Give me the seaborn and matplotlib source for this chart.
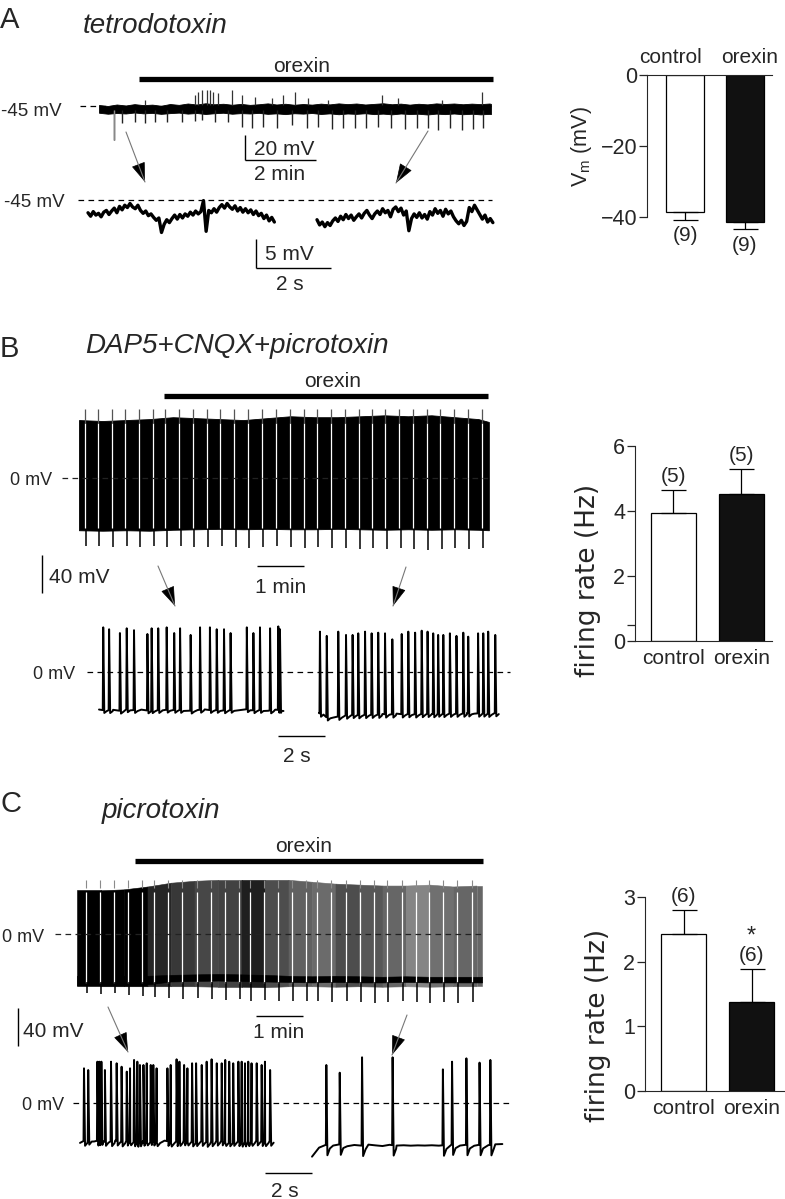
import numpy as np
import matplotlib
matplotlib.use("Agg")
import matplotlib.pyplot as plt
import seaborn as sns
from matplotlib.lines import Line2D
from matplotlib.patches import FancyArrowPatch, ArrowStyle

# ============================ DATA ============================
bar_cats = ["control", "orexin"]
a_vm = [-38.6, -41.4]          # membrane potential (mV)
a_vm_sem = [2.2, 2.0]
a_n = ["(9)", "(9)"]
b_rate = [3.94, 4.52]          # firing rate (Hz)
b_rate_sem = [0.71, 0.77]
b_n = ["(5)", "(5)"]
c_rate = [2.43, 1.38]
c_rate_sem = [0.37, 0.50]
c_n = ["(6)", "(6)"]

# ---- A: long recording in TTX (time in min, V in mV)
a_trace_end = 11.04
a_orexin = [1.13, 11.10]
a_env_t = [0.0, 0.25, 0.5, 0.75, 1.0, 1.25, 1.5, 1.75, 2.0, 2.25, 2.5, 2.75, 3.0, 3.25, 3.5,
           3.75, 4.0, 4.25, 4.5, 4.75, 5.0, 5.25, 5.5, 5.75, 6.0, 6.25, 6.5, 6.75, 7.0, 7.25,
           7.5, 7.75, 8.0, 8.25, 8.5, 8.75, 9.0, 9.25, 9.5, 9.75, 10.0, 10.25, 10.5, 10.75,
           11.0, 11.04]
a_top = [-44.2, -45.0, -43.8, -44.6, -43.5, -44.3, -43.9, -44.8, -43.4, -44.1,
         -43.0, -43.8, -42.8, -43.6, -43.2, -44.0, -43.3, -44.1, -43.6, -42.9,
         -43.8, -43.2, -44.0, -43.4, -43.9, -43.1, -43.7, -42.9, -43.5, -43.0,
         -43.8, -43.3, -42.8, -43.6, -43.1, -43.9, -43.2, -43.7, -42.9, -43.4,
         -43.0, -43.6, -43.1, -43.5, -43.0, -43.3]
a_bot = [-50.4, -51.2, -50.6, -51.0, -50.2, -50.9, -50.5, -51.3, -50.7, -50.3,
         -51.1, -50.6, -51.4, -50.8, -50.4, -51.2, -50.7, -51.0, -50.5, -51.3,
         -50.9, -51.5, -50.8, -51.1, -50.6, -51.4, -50.9, -51.6, -51.0, -51.3,
         -50.8, -51.5, -51.1, -51.7, -51.0, -51.4, -51.2, -51.8, -51.1, -51.5,
         -51.0, -51.6, -51.2, -51.7, -51.3, -51.5]
a_pulse_t = [0.43, 0.64, 1.01, 1.30, 1.58, 1.91, 2.33, 2.70, 2.89, 3.27, 3.64, 4.02, 4.30, 4.63,
             5.01, 5.43, 5.85, 6.18, 6.55, 6.88, 7.21, 7.51, 7.87, 8.23, 8.62, 8.95, 9.28, 9.56,
             9.89, 10.22, 10.54, 10.83]
a_pulse_v = [-72, -58.9, -58.1, -58.9, -57.5, -57.5, -58.1, -57.0, -56.2, -57.5, -58.1, -61.5,
             -62.9, -61.5, -62.9, -60.2, -62.9, -61.5, -63.4, -62.3, -62.9, -62.9, -61.5, -62.9,
             -63.4, -62.3, -62.9, -64.2, -62.3, -64.2, -63.4, -62.9]
a_evt_t = [1.30, 2.70, 2.80, 2.89, 3.03, 3.13, 3.22, 3.36, 3.74, 4.02, 4.39, 4.86, 5.19, 5.52,
           5.90, 6.46, 7.96, 8.43, 9.65, 10.78]
a_evt_v = [-40.5, -36.2, -33.5, -32.2, -32.2, -32.2, -33.5, -34.9, -32.2, -36.2, -37.5, -38.9,
           -36.2, -33.5, -38.9, -40.2, -36.2, -38.9, -40.2, -34.1]

# ---- A: expanded segments (sample interval s, V in mV)
a_dt = 0.07
a_exp_left = [-47.2, -47.8, -47.0, -47.6, -47.3, -47.9, -47.1, -46.8, -47.5, -46.9, -46.4, -47.2,
              -46.1, -46.7, -45.9, -46.3, -45.6, -46.2, -46.5, -45.9, -46.8, -47.3, -46.9, -47.7,
              -47.4, -48.0, -48.5, -48.1, -50.6, -49.2, -48.4, -48.9, -48.2, -47.6, -48.3, -47.5,
              -48.1, -47.4, -47.8, -47.1, -47.6, -46.9, -47.4, -47.0, -45.1, -50.4, -46.8, -47.2,
              -46.5, -47.1, -46.3, -45.8, -46.4, -45.6, -46.2, -46.6, -46.0, -46.9, -46.3, -47.1,
              -46.5, -47.2, -46.7, -47.5, -46.9, -47.7, -47.3, -48.2, -47.6, -48.6, -48.0, -48.8]
a_exp_right = [-48.4, -49.3, -48.8, -49.6, -48.9, -49.4, -48.6, -48.1, -48.7, -47.8, -48.4, -47.5,
               -48.2, -47.6, -48.5, -47.9, -47.4, -48.1, -47.3, -46.8, -47.6, -48.2, -47.4, -46.9,
               -47.5, -46.5, -47.2, -46.8, -47.9, -46.6, -46.2, -47.0, -46.4, -47.6, -46.9, -50.3,
               -48.2, -47.4, -48.0, -47.2, -48.1, -47.5, -48.3, -47.0, -47.6, -46.5, -47.3, -46.8,
               -47.8, -46.6, -47.4, -46.9, -47.9, -48.6, -49.1, -48.5, -49.4, -48.7, -46.3, -47.0,
               -45.9, -46.7, -47.5, -48.3, -47.6, -48.8, -48.2, -48.9]

# ---- B: long recording in DAP5+CNQX+picrotoxin (min, mV)
b_orexin = [1.81, 8.70]
b_env_t = [0.0, 0.5, 1.0, 1.5, 2.0, 2.5, 3.0, 3.5, 4.0, 4.5, 5.0, 5.5, 6.0, 6.5, 7.0, 7.5,
           8.0, 8.5, 8.72]
b_top = [61, 60, 61, 62, 64, 63, 62, 61, 63, 65, 64, 64, 65, 66, 65, 66, 64, 62, 59]
b_bot = [-55, -55.5, -55, -55.5, -54.5, -54, -53.5, -54, -53.5, -54, -54, -53.5, -54, -54.5,
         -54, -54.5, -54, -54.5, -55]
b_pulse_t = [0.149, 0.433, 0.730, 1.014, 1.298, 1.596, 1.865, 2.163, 2.447, 2.752, 3.035, 3.333,
             3.624, 3.922, 4.220, 4.511, 4.809, 5.092, 5.390, 5.681, 5.979, 6.262, 6.546, 6.844,
             7.135, 7.433, 7.716, 8.000, 8.298, 8.603]
b_pulse_v = [-72, -72, -73, -72, -73, -72, -73, -72, -73, -73, -72, -73, -74, -73, -72, -73, -74,
             -73, -74, -74, -75, -74, -75, -74, -75, -76, -75, -74, -75, -74]
b_rebound_v = 73

# ---- B: expanded segments (s, mV)
b_dt = 0.3
b_left_base = [-39.5, -40.5, -39.8, -40.8, -39.2, -40.1, -39.6, -40.6, -39.9, -40.4, -39.3, -40.2,
               -39.7, -40.7, -40.0, -39.4, -40.3, -39.8, -40.6, -39.5, -40.1, -39.2, -40.4, -39.9,
               -40.8, -39.6, -40.2]
b_left_spk_t = [0.18, 0.43, 0.89, 1.18, 1.49, 2.06, 2.24, 2.52, 2.88, 3.20, 3.45, 3.90, 4.30, 4.72,
                5.01, 5.32, 5.60, 6.29, 6.57, 6.85, 7.28, 7.63, 7.70]
b_left_spk_v = [47, 45, 41, 46, 44, 40, 46, 46, 47, 41, 46, 39, 47, 47, 45, 45, 41, 47, 41, 47,
                46, 48, 45]
b_right_base = [-43.0, -47.5, -48.0, -46.5, -45.5, -44.8, -45.6, -44.5, -45.2, -44.2, -44.9, -43.8,
                -44.6, -43.9, -44.7, -43.6, -44.3, -43.5, -44.2, -43.4, -44.0, -43.2, -43.9, -43.3,
                -43.8, -43.1]
b_right_spk_t = [0.04, 0.33, 0.82, 1.15, 1.43, 1.67, 1.96, 2.24, 2.52, 2.81, 3.12, 3.52, 3.80,
                 4.09, 4.37, 4.62, 4.86, 5.07, 5.29, 5.57, 5.85, 6.14, 6.35, 6.77, 6.99, 7.20, 7.50]
b_right_spk_v = [42.5, 38, 42.5, 39, 39, 40.7, 42.5, 40.7, 41.4, 40.7, 34.4, 40, 42.5, 41.4, 43.5,
                 42.5, 40.7, 39, 39, 40.7, 38, 41.4, 37.2, 40.7, 40.7, 42.5, 39]

# ---- C: long recording in picrotoxin (min, mV)
c_orexin = [1.23, 8.64]
c_env_t = [0.0, 0.5, 1.0, 1.5, 2.0, 2.5, 3.0, 3.5, 4.0, 4.5, 5.0, 5.5, 6.0, 6.5, 7.0, 7.5,
           8.0, 8.5, 8.62]
c_top = [46, 46, 47, 50, 54, 56, 57, 57, 57, 57, 55, 53, 52, 51, 51, 52, 50, 51, 51]
c_bot = [-55, -55, -55, -55, -55, -55, -55.5, -55.5, -56, -55, -55, -55.5, -55, -55.5, -55,
         -55.5, -55, -55, -55]
c_band_hi = [-44, -44, -44, -44, -43, -42.5, -42, -42.5, -43, -44, -44.5, -44, -44.5, -45,
             -44.5, -45, -45, -45, -45]
c_band_lo = [-54, -54, -54, -53, -50, -49.5, -49, -49.5, -50, -50.5, -51, -50.5, -51, -51,
             -50.5, -51, -51, -51, -51]
# darkness of the compressed spike trace per interval (1 = solid black)
c_dark = [1.0, 1.0, 1.0, 0.85, 0.78, 0.72, 0.74, 0.88, 0.70, 0.62, 0.58, 0.70, 0.66, 0.60,
          0.48, 0.56, 0.60, 0.60]
c_pulse_t = [0.206, 0.511, 0.809, 1.113, 1.411, 1.660, 1.964, 2.262, 2.568, 2.866, 3.170, 3.468,
             3.696, 4.000, 4.304, 4.602, 4.887, 5.134, 5.432, 5.738, 6.036, 6.340, 6.623, 6.930,
             7.228, 7.511, 7.815, 8.113, 8.419]
c_pulse_v = [-62, -63, -62, -64, -65, -66, -67, -68, -67, -68, -69, -68, -70, -69, -70, -71, -70,
             -71, -72, -71, -72, -73, -72, -71, -72, -73, -72, -73, -72]
c_rebound_v = 57

# ---- C: expanded segments (s, mV)
c_dt = 0.3
c_left_base = [-42.0, -38.5, -40.5, -39.0, -41.0, -39.5, -40.8, -39.3, -41.2, -40.0, -39.2, -40.6,
               -39.6, -41.0, -40.2, -39.4, -40.8, -39.8, -41.2, -40.1, -39.5, -40.7, -39.9, -41.0,
               -40.3, -39.6, -40.5, -40.0]
c_left_spk_t = [0.17, 0.35, 0.74, 0.82, 0.91, 1.06, 1.32, 1.56, 1.77, 1.99, 2.13, 2.30, 2.44, 2.55,
                2.70, 2.84, 3.01, 3.12, 3.26, 3.72, 3.86, 4.11, 4.23, 4.43, 4.57, 4.77, 4.94, 5.18,
                5.39, 5.60, 5.82, 6.03, 6.18, 6.35, 6.52, 6.74, 6.88, 7.02, 7.16, 7.30, 7.52, 7.73,
                7.87, 8.09]
c_left_spk_v = [36.5, 34.7, 43.5, 43.5, 43.5, 34.7, 43.5, 41.8, 38.2, 33.0, 36.5, 45.3, 43.5, 40,
                40, 41.8, 40, 40, 36.5, 36.5, 40, 46, 43.5, 40, 36.5, 41.8, 41.8, 40, 43.5, 46,
                41.8, 41.8, 45.3, 43.5, 41.8, 43.5, 43.5, 41.8, 43.5, 41.8, 41.8, 40, 43.5, 34.7]
c_right_base = [-56.5, -47.0, -44.0, -44.8, -43.5, -45.5, -44.2, -45.0, -43.8, -44.6, -45.3, -44.0,
                -44.8, -44.5, -44.9, -44.6, -44.8, -44.5, -44.9, -44.3, -43.6, -44.8, -43.9, -45.0,
                -43.7, -44.4, -43.5, -43.2]
c_right_spk_t = [0.61, 1.18, 2.13, 3.43, 5.57, 5.96, 6.57, 7.13, 7.59]
c_right_spk_v = [40.0, 31.9, 48.1, 48.1, 35.4, 43.5, 47.0, 42.5, 45.3]

# ============================ STYLE / LAYOUT ============================
sns.set_style("ticks")
plt.rcParams["font.family"] = ["Liberation Sans", "DejaVu Sans"]
plt.rcParams["mathtext.fontset"] = "custom"
plt.rcParams["mathtext.rm"] = "Liberation Sans"
plt.rcParams["mathtext.it"] = "Liberation Sans:italic"

W, H = 785, 1199
fig = plt.figure(figsize=(W / 100, H / 100), dpi=100)
fig.patch.set_facecolor("white")
DASH = (0, (4.5, 3.5))
TXT = 15


def ftext(x, y, s, **kw):
    kw.setdefault("va", "baseline")
    kw.setdefault("fontsize", TXT)
    fig.text(x / W, 1 - y / H, s, **kw)


def trace_ax(box, x0, sx, y0, sy):
    l, t, r, b = box
    ax = fig.add_axes([l / W, 1 - b / H, (r - l) / W, (b - t) / H])
    ax.set_xlim((l - x0) / sx, (r - x0) / sx)
    ax.set_ylim((y0 - b) / sy, (y0 - t) / sy)
    ax.set_axis_off()
    cx = lambda px: (px - x0) / sx
    cy = lambda py: (y0 - py) / sy
    return ax, cx, cy


def scale_v(ax, cx, cy, px, py_bottom, dy):
    x, y = cx(px), cy(py_bottom)
    ax.plot([x, x], [y, y + dy], color="k", lw=1.0, clip_on=False, solid_capstyle="butt")


def scale_h(ax, cx, cy, px_left, py, dx):
    x, y = cx(px_left), cy(py)
    ax.plot([x, x + dx], [y, y], color="k", lw=1.0, clip_on=False, solid_capstyle="butt")


def orexin_bar(ax, cy, span, py):
    ax.plot(span, [cy(py)] * 2, color="k", lw=3.8, solid_capstyle="butt", clip_on=False)


def arrow(x0, y0, x1, y1):
    fig.add_artist(Line2D([x0 / W, x1 / W], [1 - y0 / H, 1 - y1 / H], color="#777777", lw=0.8))
    d = np.hypot(x1 - x0, y1 - y0)
    hx, hy = x1 - (x1 - x0) / d * 13, y1 - (y1 - y0) / d * 13
    fig.add_artist(FancyArrowPatch((hx / W, 1 - hy / H), (x1 / W, 1 - y1 / H),
                                   transform=fig.transFigure,
                                   arrowstyle=ArrowStyle("-|>", head_length=0.7, head_width=0.25),
                                   mutation_scale=18, color="k", lw=0.5,
                                   shrinkA=0, shrinkB=0))


def spike_path(base, dt, spk_t, spk_v, ahp):
    bt = np.arange(len(base)) * dt
    pts = [(t, v) for t, v in zip(bt, base)
           if not any(s - 0.04 < t < s + 0.16 for s in spk_t)]
    for s, p in zip(spk_t, spk_v):
        b = float(np.interp(s, bt, base))
        pts += [(s - 0.02, b), (s, p), (s + 0.045, b - ahp), (s + 0.15, b - ahp * 0.35)]
    pts.sort()
    return np.array([p[0] for p in pts]), np.array([p[1] for p in pts])


# ============================ PANEL A ============================
ftext(0, 28, "A", fontsize=21)
ftext(83, 33, "tetrodotoxin", fontsize=20, style="italic")
ftext(302, 72, "orexin", ha="center")

axA, cxA, cyA = trace_ax((55, 60, 505, 190), x0=99, sx=35.5, y0=49.75, sy=1.25)
axA.fill_between(a_env_t, a_bot, a_top, color="k", lw=0.6)
axA.vlines(a_evt_t, -44, a_evt_v, color="#333333", lw=0.9)
axA.vlines(a_pulse_t, -48, a_pulse_v, color="#222222", lw=1.0)
axA.vlines(a_pulse_t[:1], -48, a_pulse_v[:1], color="#888888", lw=1.0)
axA.plot([cxA(80), a_trace_end], [-45, -45], color="k", lw=0.9, ls=DASH)
orexin_bar(axA, cyA, a_orexin, 79)
scale_v(axA, cxA, cyA, 245, 160, 20)
scale_h(axA, cxA, cyA, 245, 160, 2)
ftext(62, 116, "-45 mV", ha="right", fontsize=13.5)
ftext(254, 155, "20 mV")
ftext(280, 180, "2 min", ha="center")

axAe, cxAe, cyAe = trace_ax((70, 188, 505, 275), x0=88, sx=37.5, y0=-61, sy=5.8)
a_t_left = np.arange(len(a_exp_left)) * a_dt
a_t_right = np.arange(len(a_exp_right)) * a_dt + cxAe(317)
axAe.plot(a_t_left, a_exp_left, color="k", lw=2.4)
axAe.plot(a_t_right, a_exp_right, color="k", lw=2.4)
axAe.plot([cxAe(78), cxAe(492)], [-45, -45], color="k", lw=0.9, ls=DASH)
scale_v(axAe, cxAe, cyAe, 256, 268, 5)
scale_h(axAe, cxAe, cyAe, 256, 268, 2)
ftext(65, 207, "-45 mV", ha="right", fontsize=13.5)
ftext(265, 260, "5 mV")
ftext(290, 290, "2 s", ha="center")
arrow(126, 132, 145, 182)
arrow(428, 131, 396, 183)

# bar chart A
axAb = fig.add_axes([647 / W, 1 - 233 / H, (772 - 647) / W, (233 - 75) / H])
sns.barplot(x=bar_cats, y=a_vm, hue=bar_cats, palette=["white", "#111111"], saturation=1,
            edgecolor="black", linewidth=0.9, width=0.64, legend=False, ax=axAb)
axAb.errorbar([0, 1], a_vm, yerr=[a_vm_sem, [0, 0]], fmt="none", ecolor="black",
              elinewidth=0.9, capsize=9, capthick=0.9)
for i, (v, s, n) in enumerate(zip(a_vm, a_vm_sem, a_n)):
    axAb.annotate(n, (i, v - s), xytext=(0, -11.5), textcoords="offset points",
                  ha="center", va="center", fontsize=TXT, annotation_clip=False)
axAb.set_xlim(-0.64, 1.46)
axAb.set_ylim(-44.5, 0)
axAb.spines["bottom"].set_visible(False)
axAb.spines["right"].set_visible(False)
axAb.spines["left"].set_bounds(-40, 0)
axAb.set_yticks([0, -20, -40])
axAb.xaxis.tick_top()
axAb.set_xticks([-0.25, 1.09])
axAb.set_xticklabels(bar_cats)
axAb.tick_params(axis="x", length=0, pad=6, labelsize=TXT)
axAb.tick_params(axis="y", length=5.5, width=0.9, pad=1.5, labelsize=15.5)
axAb.set_xlabel("")
axAb.set_ylabel("")
axAb.set_facecolor("none")
ftext(582, 147, r"V$_{\mathrm{m}}$ (mV)", rotation=90, ha="center", va="center", fontsize=15.5)

# ============================ PANEL B ============================
ftext(0, 357, "B", fontsize=21)
ftext(85, 353, "DAP5+CNQX+picrotoxin", fontsize=20, style="italic")
ftext(333, 387, "orexin", ha="center")

axB, cxB, cyB = trace_ax((40, 385, 500, 600), x0=79, sx=47, y0=478, sy=0.95)
axB.fill_between(b_env_t, b_bot, b_top, color="k", lw=0.6)
bt_gap = [t - 0.025 for t in b_pulse_t]
axB.vlines(bt_gap, -53, 58, color="white", lw=0.9)
axB.vlines(bt_gap, 58, b_rebound_v, color="#555555", lw=0.9)
axB.vlines(b_pulse_t, -54, b_pulse_v, color="k", lw=1.1)
axB.plot([cxB(62), b_env_t[-1]], [0, 0], color="#222222", lw=0.9, ls=DASH)
orexin_bar(axB, cyB, b_orexin, 396)
scale_v(axB, cxB, cyB, 42, 593, 40)
scale_h(axB, cxB, cyB, 257, 566, 1)
ftext(52, 485, "0 mV", ha="right", fontsize=13)
ftext(49, 583, "40 mV")
ftext(281, 593, "1 min", ha="center")

axBe, cxBe, cyBe = trace_ax((80, 615, 515, 725), x0=99, sx=23.5, y0=672, sy=0.95)
tl, vl = spike_path(b_left_base, b_dt, b_left_spk_t, b_left_spk_v, 3.0)
tr, vr = spike_path(b_right_base, b_dt, b_right_spk_t, b_right_spk_v, 3.5)
axBe.plot(tl, vl, color="k", lw=1.4)
axBe.plot(tr + cxBe(319), vr, color="k", lw=1.4)
axBe.plot([cxBe(87), cxBe(510)], [0, 0], color="k", lw=0.9, ls=DASH)
scale_h(axBe, cxBe, cyBe, 278, 736, 2)
ftext(75, 679, "0 mV", ha="right", fontsize=13)
ftext(297, 762, "2 s", ha="center")
arrow(158, 566, 175, 606)
arrow(406, 567, 393, 606)

# bar chart B
axBb = fig.add_axes([635 / W, 1 - 641 / H, (772 - 635) / W, (641 - 446) / H])
sns.barplot(x=bar_cats, y=b_rate, hue=bar_cats, palette=["white", "#111111"], saturation=1,
            edgecolor="black", linewidth=0.9, width=0.66, legend=False, ax=axBb)
axBb.errorbar([0, 1], b_rate, yerr=[[0, 0], b_rate_sem], fmt="none", ecolor="black",
              elinewidth=0.9, capsize=9, capthick=0.9)
for i, (v, s, n) in enumerate(zip(b_rate, b_rate_sem, b_n)):
    axBb.annotate(n, (i, v + s), xytext=(0, 9.5), textcoords="offset points",
                  ha="center", va="center", fontsize=TXT, annotation_clip=False)
axBb.set_xlim(-0.566, 1.45)
axBb.set_ylim(0, 6)
axBb.spines["top"].set_visible(False)
axBb.spines["right"].set_visible(False)
axBb.set_yticks([0, 2, 4, 6])
axBb.set_yticks([0.5], minor=True)
axBb.tick_params(axis="x", length=0, pad=6, labelsize=TXT)
axBb.tick_params(axis="y", which="both", length=5.5, width=0.9, pad=1.5, labelsize=15.5)
axBb.set_xlabel("")
axBb.set_ylabel("")
axBb.set_facecolor("none")
ftext(588, 580, "firing rate (Hz)", rotation=90, ha="center", va="center", fontsize=19,
      family="DejaVu Sans")

# ============================ PANEL C ============================
ftext(0, 812, "C", fontsize=21)
ftext(102, 818, "picrotoxin", fontsize=20, style="italic")
ftext(304, 852, "orexin", ha="center")

axC, cxC, cyC = trace_ax((10, 850, 495, 1050), x0=77, sx=47, y0=934, sy=0.95)
for i, d in enumerate(c_dark):
    seg = c_env_t[i:i + 2]
    col = str(round(1 - d, 3))
    axC.fill_between(seg, c_bot[i:i + 2], c_top[i:i + 2], color=col, lw=0.4, ec=col)
axC.fill_between(c_env_t, c_band_lo, c_band_hi, color="k", lw=0.4)
ct_gap = [t - 0.025 for t in c_pulse_t]
axC.vlines(ct_gap, -52, 44, color="white", lw=0.9)
axC.vlines(ct_gap, 48, c_rebound_v, color="#8a8a8a", lw=0.8)
axC.vlines(c_pulse_t, -50, c_pulse_v, color="k", lw=1.1)
axC.plot([cxC(55), c_env_t[-1]], [0, 0], color="#222222", lw=0.9, ls=DASH)
orexin_bar(axC, cyC, c_orexin, 861)
scale_v(axC, cxC, cyC, 18, 1046, 40)
scale_h(axC, cxC, cyC, 256, 1016, 1)
ftext(44, 942, "0 mV", ha="right", fontsize=13)
ftext(23, 1037, "40 mV")
ftext(279, 1038, "1 min", ha="center")

axCe, cxCe, cyCe = trace_ax((60, 1052, 515, 1165), x0=80, sx=23.5, y0=1103, sy=0.95)
tl, vl = spike_path(c_left_base, c_dt, c_left_spk_t, c_left_spk_v, 5.0)
tr, vr = spike_path(c_right_base, c_dt, c_right_spk_t, c_right_spk_v, 11.0)
axCe.plot(tl, vl, color="k", lw=1.4)
axCe.plot(tr + cxCe(312), vr, color="k", lw=1.4)
axCe.plot([cxCe(73), cxCe(512)], [0, 0], color="k", lw=0.9, ls=DASH)
scale_h(axCe, cxCe, cyCe, 265, 1173, 2)
ftext(64, 1110, "0 mV", ha="right", fontsize=13)
ftext(285, 1197, "2 s", ha="center")
arrow(108, 1007, 128, 1052)
arrow(407, 1015, 392, 1055)

# bar chart C
axCb = fig.add_axes([645 / W, 1 - 1091 / H, (785 - 645) / W, (1091 - 897) / H])
sns.barplot(x=bar_cats, y=c_rate, hue=bar_cats, palette=["white", "#111111"], saturation=1,
            edgecolor="black", linewidth=0.9, width=0.66, legend=False, ax=axCb)
axCb.errorbar([0, 1], c_rate, yerr=[[0, 0], c_rate_sem], fmt="none", ecolor="black",
              elinewidth=0.9, capsize=9, capthick=0.9)
for i, (v, s, n) in enumerate(zip(c_rate, c_rate_sem, c_n)):
    axCb.annotate(n, (i, v + s), xytext=(0, 10), textcoords="offset points",
                  ha="center", va="center", fontsize=TXT, annotation_clip=False)
axCb.annotate("*", (1, c_rate[1] + c_rate_sem[1]), xytext=(0, 24), textcoords="offset points",
              ha="center", va="center", fontsize=17, annotation_clip=False)
axCb.set_xlim(-0.566, 1.49)
axCb.set_ylim(0, 3)
axCb.spines["top"].set_visible(False)
axCb.spines["right"].set_visible(False)
axCb.set_yticks([0, 1, 2, 3])
axCb.tick_params(axis="x", length=0, pad=6, labelsize=TXT)
axCb.tick_params(axis="y", length=5.5, width=0.9, pad=1.5, labelsize=15.5)
axCb.set_xlabel("")
axCb.set_ylabel("")
axCb.set_facecolor("none")
ftext(598, 1025, "firing rate (Hz)", rotation=90, ha="center", va="center", fontsize=19,
      family="DejaVu Sans")

fig.savefig("out.png", dpi=100, facecolor="white")
